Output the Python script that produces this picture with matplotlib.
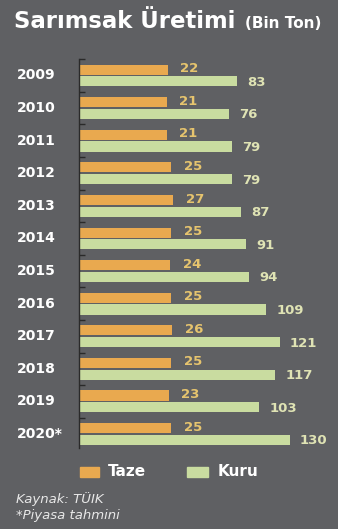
import numpy as np
import matplotlib.pyplot as plt
from matplotlib.patches import Rectangle
import matplotlib.transforms as mtransforms

years = ['2009', '2010', '2011', '2012', '2013', '2014', '2015', '2016',
         '2017', '2018', '2019', '2020*']
taze = [22, 21, 21, 25, 27, 25, 24, 25, 26, 25, 23, 25]
kuru = [83, 76, 79, 79, 87, 91, 94, 109, 121, 117, 103, 130]

W, H = 338, 529
bg = '#5f6063'
c_taze = '#e9a94f'
c_kuru = '#c9dca0'
lab_taze = '#e6c46e'
lab_kuru = '#dfe3b4'

fig = plt.figure(figsize=(W / 100, H / 100), dpi=100, facecolor=bg)
ax = fig.add_axes([79 / W, 1 - 448 / H, (W - 79) / W, (448 - 59) / H])
ax.set_facecolor(bg)

# axis is broken: bars start at this value, not at zero
x0 = -56.6
y = np.arange(len(years))
off = 0.18
h = 0.31
ax.barh(y - off, np.array(taze) - x0, left=x0, height=h, color=c_taze)
ax.barh(y + off, np.array(kuru) - x0, left=x0, height=h, color=c_kuru)

for i in range(len(years)):
    ax.text(taze[i] + 11, y[i] - off - 0.03, str(taze[i]), color=lab_taze,
            fontsize=9.5, fontweight='bold', va='center', ha='left')
    ax.text(kuru[i] + 9, y[i] + off + 0.03, str(kuru[i]), color=lab_kuru,
            fontsize=9.5, fontweight='bold', va='center', ha='left')

ax.set_xlim(x0, x0 + (W - 79) / 1.13)
ax.set_ylim(len(years) - 0.57, -0.506)
for s in ['top', 'right', 'bottom']:
    ax.spines[s].set_visible(False)
ax.spines['left'].set_color('#2a2a2a')
ax.spines['left'].set_linewidth(1.0)
ax.set_xticks([])
ax.set_yticks(np.arange(len(years)) - 0.5)
ax.set_yticklabels([])
ax.tick_params(axis='y', direction='in', length=4, width=1, color='#2a2a2a')

trans = mtransforms.blended_transform_factory(fig.transFigure, ax.transData)
for i, yr in enumerate(years):
    ax.text(17 / W, y[i], yr, transform=trans, color='white', fontsize=10,
            fontweight='bold', va='center', ha='left')

fig.text(14 / W, 1 - 22 / H, 'Sarımsak Üretimi', color='white', fontsize=16.4,
         fontweight='bold', va='center', ha='left')
fig.text(245 / W, 1 - 23 / H, '(Bin Ton)', color='white', fontsize=11,
         fontweight='bold', va='center', ha='left')

# legend
fig.patches.append(Rectangle((80 / W, 1 - 477 / H), 19 / W, 10 / H,
                             transform=fig.transFigure, color=c_taze))
fig.text(108 / W, 1 - 472 / H, 'Taze', color='white', fontsize=11,
         fontweight='bold', va='center', ha='left')
fig.patches.append(Rectangle((187 / W, 1 - 477 / H), 21 / W, 10 / H,
                             transform=fig.transFigure, color=c_kuru))
fig.text(218 / W, 1 - 472 / H, 'Kuru', color='white', fontsize=11,
         fontweight='bold', va='center', ha='left')

fig.text(16 / W, 1 - 499 / H, 'Kaynak: TÜIK', color='#e8e8e8', fontsize=9.5,
         style='italic', va='center', ha='left')
fig.text(16 / W, 1 - 515 / H, '*Piyasa tahmini', color='#e8e8e8', fontsize=9.5,
         style='italic', va='center', ha='left')

fig.savefig('out.png', dpi=100, facecolor=bg)
